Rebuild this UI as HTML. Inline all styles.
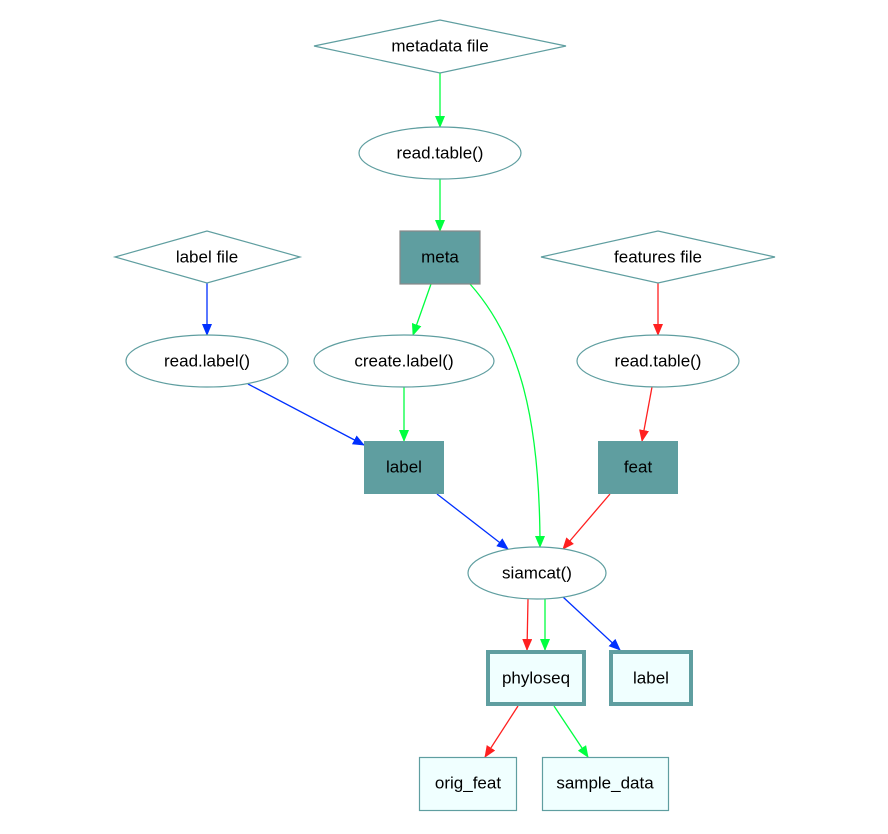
<!DOCTYPE html>
<html><head><style>body{margin:0;background:#fff}svg text{font-family:"Liberation Sans","DejaVu Sans",sans-serif;font-size:17px;text-anchor:middle;dominant-baseline:central;fill:#000}</style></head>
<body>
<svg width="888" height="829" viewBox="0 0 888 829" xmlns="http://www.w3.org/2000/svg">
<defs>
<marker id="g" markerWidth="12" markerHeight="10" refX="11" refY="5" orient="auto" markerUnits="userSpaceOnUse"><path d="M0,0L12,5L0,10z" fill="#00ff40"/></marker>
<marker id="r" markerWidth="12" markerHeight="10" refX="11" refY="5" orient="auto" markerUnits="userSpaceOnUse"><path d="M0,0L12,5L0,10z" fill="#ff2020"/></marker>
<marker id="b" markerWidth="12" markerHeight="10" refX="11" refY="5" orient="auto" markerUnits="userSpaceOnUse"><path d="M0,0L12,5L0,10z" fill="#0030ff"/></marker>
</defs>
<g fill="none" stroke-width="1.3">
<path d="M440,73L440,127" stroke="#00ff40" marker-end="url(#g)"/>
<path d="M440,179L440,231" stroke="#00ff40" marker-end="url(#g)"/>
<path d="M207,283L207,335" stroke="#0030ff" marker-end="url(#b)"/>
<path d="M431,284L413,335" stroke="#00ff40" marker-end="url(#g)"/>
<path d="M470,284C520,340 540,420 540,547" stroke="#00ff40" marker-end="url(#g)"/>
<path d="M658,283L658,335" stroke="#ff2020" marker-end="url(#r)"/>
<path d="M652,387L642,441" stroke="#ff2020" marker-end="url(#r)"/>
<path d="M248,384L364,445" stroke="#0030ff" marker-end="url(#b)"/>
<path d="M404,387L404,441" stroke="#00ff40" marker-end="url(#g)"/>
<path d="M437,494L508,549" stroke="#0030ff" marker-end="url(#b)"/>
<path d="M610,494L563,549" stroke="#ff2020" marker-end="url(#r)"/>
<path d="M528,599L527,650" stroke="#ff2020" marker-end="url(#r)"/>
<path d="M545,599L545,650" stroke="#00ff40" marker-end="url(#g)"/>
<path d="M563,597L620,650" stroke="#0030ff" marker-end="url(#b)"/>
<path d="M518,706L485,757" stroke="#ff2020" marker-end="url(#r)"/>
<path d="M554,706L588,757" stroke="#00ff40" marker-end="url(#g)"/>
</g>
<g stroke="#5f9ea0" stroke-width="1.2" fill="#fff">
<polygon points="314,46 440,20 566,46 440,73"/>
<polygon points="115,257 207,231 300,257 207,283"/>
<polygon points="541,257 658,231 775,257 658,283"/>
<ellipse cx="440" cy="153" rx="81" ry="26"/>
<ellipse cx="207" cy="361" rx="81" ry="26"/>
<ellipse cx="404" cy="361" rx="90" ry="26"/>
<ellipse cx="658" cy="361" rx="81" ry="26"/>
<ellipse cx="537" cy="573" rx="69" ry="26"/>
</g>
<rect x="400" y="231" width="80" height="53" fill="#5f9ea0" stroke="#888" stroke-width="1.2"/>
<rect x="364" y="441" width="80" height="53" fill="#5f9ea0"/>
<rect x="598" y="441" width="80" height="53" fill="#5f9ea0"/>
<rect x="488" y="652" width="96" height="52" fill="#f0ffff" stroke="#5f9ea0" stroke-width="4"/>
<rect x="611" y="652" width="80" height="52" fill="#f0ffff" stroke="#5f9ea0" stroke-width="4"/>
<rect x="419.5" y="757.5" width="97" height="53" fill="#f0ffff" stroke="#5f9ea0" stroke-width="1.2"/>
<rect x="542.5" y="757.5" width="126" height="53" fill="#f0ffff" stroke="#5f9ea0" stroke-width="1.2"/>
<text x="440" y="46">metadata file</text>
<text x="440" y="153">read.table()</text>
<text x="440" y="257">meta</text>
<text x="207" y="257">label file</text>
<text x="658" y="257">features file</text>
<text x="207" y="361">read.label()</text>
<text x="404" y="361">create.label()</text>
<text x="658" y="361">read.table()</text>
<text x="404" y="467">label</text>
<text x="638" y="467">feat</text>
<text x="537" y="573">siamcat()</text>
<text x="536" y="678">phyloseq</text>
<text x="651" y="678">label</text>
<text x="468" y="783">orig_feat</text>
<text x="605" y="783">sample_data</text>
</svg>
</body></html>
